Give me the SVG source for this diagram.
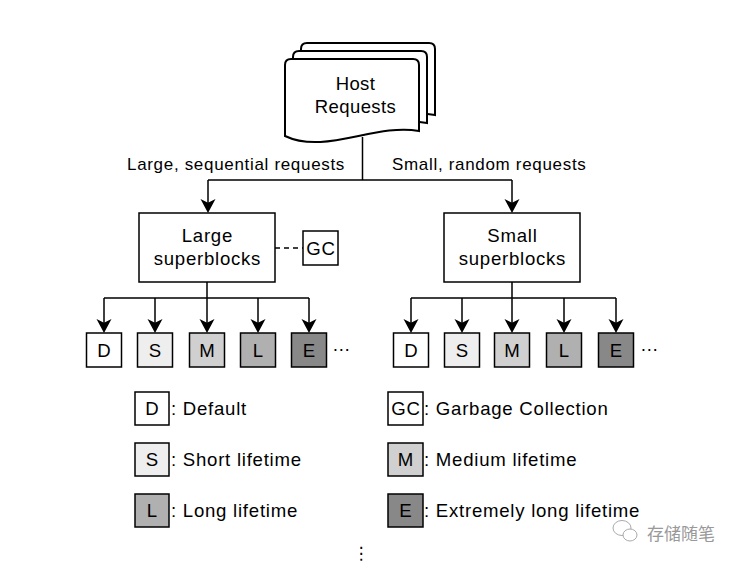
<svg xmlns="http://www.w3.org/2000/svg" width="740" height="564" viewBox="0 0 740 564">
<defs>
<style>
.t{font-family:"Liberation Sans",Arial,sans-serif;font-size:18.6px;letter-spacing:0.75px;fill:#000}
.lb{font-size:17px;letter-spacing:0.68px}
.h{font-size:18.5px;letter-spacing:0.4px}
.c{letter-spacing:0}
.m{text-anchor:middle}
.bx{stroke:#000;stroke-width:1.5}
.ln{fill:none;stroke:#000;stroke-width:1.5}
.d{fill:#ffffff}.s{fill:#eeeeee}.md{fill:#d0d0d0}.l{fill:#b0b0b0}.e{fill:#888888}
</style>
<marker id="arr" markerUnits="userSpaceOnUse" markerWidth="16" markerHeight="16" viewBox="0 0 16 16" refX="12" refY="8" orient="auto">
<path d="M0,0.5 L14,8 L0,15.5 L3.8,8 Z" fill="#000"/>
</marker>
<path id="doc" d="M0,6 Q0,0 6,0 H128 Q134,0 134,6 V72 C90,64 40,96 0,77 Z"/>
</defs>
<rect width="740" height="564" fill="#fff"/>

<g id="host">
<use href="#doc" x="301" y="43" fill="#fff" stroke="#000" stroke-width="2"/>
<use href="#doc" x="293" y="51" fill="#fff" stroke="#000" stroke-width="2"/>
<use href="#doc" x="285" y="59" fill="#fff" stroke="#000" stroke-width="2"/>
<text class="t h m" x="355.5" y="90">Host</text>
<text class="t h m" x="355.5" y="113">Requests</text>
</g>

<g id="connectors">
<path class="ln" d="M362.5,137 V180 M208,180 H512"/>
<path class="ln" marker-end="url(#arr)" d="M208,180 V211"/>
<path class="ln" marker-end="url(#arr)" d="M512,180 V211"/>
<path class="ln" d="M207,282 V298 M104,298 H309"/>
<path class="ln" marker-end="url(#arr)" d="M104,298 V331"/>
<path class="ln" marker-end="url(#arr)" d="M155,298 V331"/>
<path class="ln" marker-end="url(#arr)" d="M207,298 V331"/>
<path class="ln" marker-end="url(#arr)" d="M258,298 V331"/>
<path class="ln" marker-end="url(#arr)" d="M309,298 V331"/>
<path class="ln" d="M512,282 V298 M411,298 H616"/>
<path class="ln" marker-end="url(#arr)" d="M411,298 V331"/>
<path class="ln" marker-end="url(#arr)" d="M462,298 V331"/>
<path class="ln" marker-end="url(#arr)" d="M512,298 V331"/>
<path class="ln" marker-end="url(#arr)" d="M564,298 V331"/>
<path class="ln" marker-end="url(#arr)" d="M616,298 V331"/>
<path class="ln" stroke-dasharray="5,4" d="M275,248 H303"/>
</g>

<text class="t lb" x="127" y="170">Large, sequential requests</text>
<text class="t lb" x="392" y="170">Small, random requests</text>

<g id="large">
<rect class="bx d" x="139" y="213" width="136" height="69"/>
<text class="t m" x="207.4" y="242">Large</text>
<text class="t m" x="207.4" y="265">superblocks</text>
</g>
<g id="small">
<rect class="bx d" x="444" y="213" width="136" height="69"/>
<text class="t m" x="512.4" y="242">Small</text>
<text class="t m" x="512.4" y="265">superblocks</text>
</g>
<g id="gc">
<rect class="bx d" x="303" y="231" width="35" height="34"/>
<text class="t m" x="320.9" y="254.5">GC</text>
</g>

<g id="large-D"><rect class="bx d" x="86.5" y="333" width="35" height="34"/><text class="t c m" x="104" y="356.5">D</text></g>
<g id="large-S"><rect class="bx s" x="137.5" y="333" width="35" height="34"/><text class="t c m" x="155" y="356.5">S</text></g>
<g id="large-M"><rect class="bx md" x="189.5" y="333" width="35" height="34"/><text class="t c m" x="207" y="356.5">M</text></g>
<g id="large-L"><rect class="bx l" x="240.5" y="333" width="35" height="34"/><text class="t c m" x="258" y="356.5">L</text></g>
<g id="large-E"><rect class="bx e" x="291.5" y="333" width="35" height="34"/><text class="t c m" x="309" y="356.5">E</text></g>
<text class="t c" x="332" y="351">…</text>

<g id="small-D"><rect class="bx d" x="393.5" y="333" width="35" height="34"/><text class="t c m" x="411" y="356.5">D</text></g>
<g id="small-S"><rect class="bx s" x="444.5" y="333" width="35" height="34"/><text class="t c m" x="462" y="356.5">S</text></g>
<g id="small-M"><rect class="bx md" x="494.5" y="333" width="35" height="34"/><text class="t c m" x="512" y="356.5">M</text></g>
<g id="small-L"><rect class="bx l" x="546.5" y="333" width="35" height="34"/><text class="t c m" x="564" y="356.5">L</text></g>
<g id="small-E"><rect class="bx e" x="598.5" y="333" width="35" height="34"/><text class="t c m" x="616" y="356.5">E</text></g>
<text class="t c" x="640" y="351">…</text>

<g id="legend">
<rect class="bx d" x="135" y="392" width="34" height="33"/><text class="t c m" x="152" y="415">D</text>
<text class="t" x="171" y="415">: Default</text>
<rect class="bx s" x="135" y="443" width="34" height="33"/><text class="t c m" x="152" y="466">S</text>
<text class="t" x="171" y="466">: Short lifetime</text>
<rect class="bx l" x="135" y="494" width="34" height="33"/><text class="t c m" x="152" y="517">L</text>
<text class="t" x="171" y="517">: Long lifetime</text>
<rect class="bx d" x="388" y="392" width="35" height="33"/><text class="t m" x="405.9" y="415">GC</text>
<text class="t" x="424" y="415">: Garbage Collection</text>
<rect class="bx md" x="388" y="443" width="35" height="33"/><text class="t c m" x="405.5" y="466">M</text>
<text class="t" x="424" y="466">: Medium lifetime</text>
<rect class="bx e" x="388" y="494" width="35" height="33"/><text class="t c m" x="405.5" y="517">E</text>
<text class="t" x="424" y="517">: Extremely long lifetime</text>
</g>

<text x="361" y="559" style="font-family:'DejaVu Sans',sans-serif;font-size:17px;text-anchor:middle;fill:#000">⋮</text>

<g id="watermark">
<ellipse cx="622" cy="528" rx="9" ry="7.5" fill="#fff" stroke="#aaa" stroke-width="1"/>
<ellipse cx="630" cy="535" rx="7" ry="6" fill="#fff" stroke="#aaa" stroke-width="1"/>
<text x="647" y="540" style="font-family:'Noto Sans CJK SC',sans-serif;font-size:17px;fill:#999">存储随笔</text>
</g>
</svg>
